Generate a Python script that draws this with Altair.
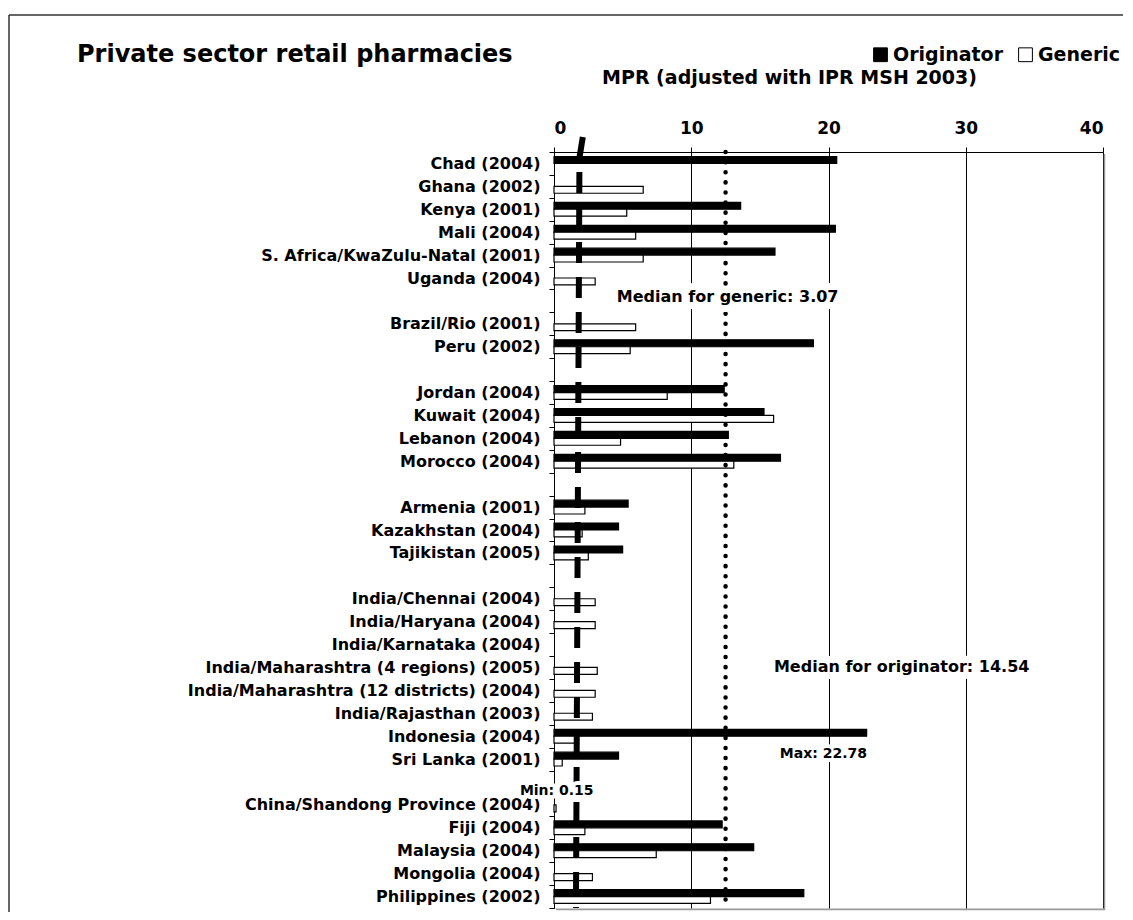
import altair as alt
import pandas as pd

# ---------------- data ----------------
rows = [
    "Chad (2004)", "Ghana (2002)", "Kenya (2001)", "Mali (2004)",
    "S. Africa/KwaZulu-Natal (2001)", "Uganda (2004)", "gap1",
    "Brazil/Rio (2001)", "Peru (2002)", "gap2",
    "Jordan (2004)", "Kuwait (2004)", "Lebanon (2004)", "Morocco (2004)", "gap3",
    "Armenia (2001)", "Kazakhstan (2004)", "Tajikistan (2005)", "gap4",
    "India/Chennai (2004)", "India/Haryana (2004)", "India/Karnataka (2004)",
    "India/Maharashtra (4 regions) (2005)", "India/Maharashtra (12 districts) (2004)",
    "India/Rajasthan (2003)", "Indonesia (2004)", "Sri Lanka (2001)", "gap5",
    "China/Shandong Province (2004)", "Fiji (2004)", "Malaysia (2004)",
    "Mongolia (2004)", "Philippines (2002)",
]
originator = [20.6, None, 13.6, 20.5, 16.1, None, None,
              None, 18.9, None,
              12.4, 15.3, 12.7, 16.5, None,
              5.4, 4.7, 5.0, None,
              None, None, None, None, None, None, 22.78, 4.7, None,
              None, 12.25, 14.55, None, 18.2]
generic = [None, 6.5, 5.3, 5.95, 6.5, 3.0, None,
           5.95, 5.55, None,
           8.25, 16.0, 4.85, 13.1, None,
           2.25, 2.05, 2.5, None,
           3.0, 3.0, None, 3.15, 3.0, 2.8, 1.65, 0.6, None,
           0.15, 2.25, 7.45, 2.8, 11.4]
series = ["Originator", "Generic"]

# median reference lines as drawn (x at top, x at bottom)
generic_median_line = [1.85, 1.6]
generic_median_top = [2.1, 1.85]
originator_median_line = [12.5]

ann_text = ["Median for generic: 3.07", "Median for originator: 14.54", "Max: 22.78", "Min: 0.15"]
ann_x = [12.65, 25.33, 19.63, 0.2]
ann_row = ["gap1", "India/Maharashtra (4 regions) (2005)", "Sri Lanka (2001)", "gap5"]
ann_dy = [-4, 0, -5, 9]
ann_size = [16, 16, 14, 14]
ann_halo = [14, 14, 8, 8]

title_text = "Private sector retail pharmacies"

recs = []
for r, o, g in zip(rows, originator, generic):
    if o is not None:
        recs.append({"row": r, "series": "Originator", "mpr": o})
    if g is not None:
        recs.append({"row": r, "series": "Generic", "mpr": g})
df = pd.DataFrame(recs)

FONT = "DejaVu Sans"
W, H = 549, 756

xscale = alt.Scale(domain=[0, 40], nice=False, zero=True)
yscale = alt.Scale(domain=rows, paddingInner=0, paddingOuter=0)

xaxis = alt.Axis(
    orient="top", values=[0, 10, 20, 30, 40], grid=True, gridColor="black", gridWidth=1,
    gridOpacity=1, tickSize=5, tickColor="black", domainColor="black",
    labelFont=FONT, labelFontWeight="bold", labelFontSize=17, labelColor="black",
    labelPadding=10, title="MPR (adjusted with IPR MSH 2003)", titleFont=FONT,
    titleFontSize=19, titleFontWeight="bold", titleColor="black",
    titleX=235, titleY=-75, titleAlign="center", titleBaseline="middle",
)
yaxis = alt.Axis(
    title=None, tickBand="extent", tickSize=5, tickColor="black", domainColor="black",
    labelFont=FONT, labelFontWeight="bold", labelFontSize=16, labelColor="black",
    labelPadding=9, labelLimit=0, grid=False,
    labelExpr="indexof(datum.label, 'gap') == 0 ? '' : datum.label",
)

X = lambda: alt.X("mpr:Q", scale=xscale, axis=xaxis)
Y = lambda: alt.Y("row:N", scale=yscale, axis=yaxis)

bars = alt.Chart(df).mark_bar(stroke="black", strokeWidth=1.2).encode(
    x=X(),
    y=Y(),
    yOffset=alt.YOffset("series:N", scale=alt.Scale(domain=series, paddingInner=0, paddingOuter=0.66)),
    fill=alt.Fill(
        "series:N",
        scale=alt.Scale(domain=series, range=["black", "white"]),
        legend=alt.Legend(
            title=None, orient="none", legendX=317, legendY=-107, direction="horizontal",
            symbolType="square", symbolSize=190, symbolStrokeColor="black",
            symbolStrokeWidth=1, labelFont=FONT, labelFontSize=19, labelFontWeight="bold",
            labelColor="black", columnPadding=12, labelOffset=3,
        ),
    ),
)

top_df = pd.DataFrame({"mpr": [generic_median_top[0]], "mpr2": [generic_median_top[1]]})
top_piece = alt.Chart(top_df).mark_rule(color="black", strokeWidth=6).encode(
    x=X(), x2="mpr2:Q", y=alt.value(-15), y2=alt.value(6)
)
dash_df = pd.DataFrame({"mpr": [generic_median_line[0]], "mpr2": [generic_median_line[1]]})
dashed = alt.Chart(dash_df).mark_rule(color="black", strokeWidth=6, strokeDash=[21, 14]).encode(
    x=X(), x2="mpr2:Q", y=alt.value(20), y2=alt.value({"expr": "height"})
)
dot_df = pd.DataFrame({"mpr": originator_median_line})
dotted = alt.Chart(dot_df).mark_rule(
    color="black", strokeWidth=4.5, strokeDash=[0.1, 10], strokeCap="round"
).encode(x=X(), y=alt.value(0), y2=alt.value({"expr": "height - 5"}))

ann_layers = []
for t, xv, rv, dy, fs, hw in zip(ann_text, ann_x, ann_row, ann_dy, ann_size, ann_halo):
    d = pd.DataFrame({"mpr": [xv], "row": [rv], "label": [t]})
    base = alt.Chart(d)
    halo = base.mark_text(
        font=FONT, fontWeight="bold", fontSize=fs, dy=dy, align="center", baseline="middle",
        color="white", stroke="white", strokeWidth=hw, strokeJoin="round",
    ).encode(x=X(), y=Y(), text="label:N")
    txt = base.mark_text(
        font=FONT, fontWeight="bold", fontSize=fs, dy=dy, align="center", baseline="middle",
        color="black",
    ).encode(x=X(), y=Y(), text="label:N")
    ann_layers += [halo, txt]

# decorations: chart title, outer frame, plot-frame shadow
title_df = pd.DataFrame({"label": [title_text]})
title = alt.Chart(title_df).mark_text(
    font=FONT, fontWeight="bold", fontSize=24, align="left", baseline="middle", color="black"
).encode(x=alt.value(-477), y=alt.value(-97), text="label:N")

frame_left = alt.Chart(dot_df).mark_rule(color="#333333", strokeWidth=1.5).encode(
    x=alt.value(-545), y=alt.value(-137), y2=alt.value({"expr": "height + 10"})
)
frame_top = alt.Chart(dot_df).mark_rule(color="#333333", strokeWidth=1.5).encode(
    x=alt.value(-545), x2=alt.value({"expr": "width + 30"}), y=alt.value(-137)
)
shadow_right = alt.Chart(dot_df).mark_rule(color="#999999", strokeWidth=1.5).encode(
    x=alt.value({"expr": "width + 1.5"}), y=alt.value(2), y2=alt.value({"expr": "height + 2"})
)
shadow_bottom = alt.Chart(dot_df).mark_rule(color="#999999", strokeWidth=1.5).encode(
    x=alt.value(2), x2=alt.value({"expr": "width + 2"}), y=alt.value({"expr": "height + 1.5"})
)

chart = alt.layer(
    bars, top_piece, dashed, dotted, *ann_layers, title,
    frame_left, frame_top, shadow_right, shadow_bottom
).properties(
    width=W, height=H,
    padding={"left": 546, "top": 144, "right": 20, "bottom": 4},
    autosize=alt.AutoSizeParams(type="none"),
).configure_view(stroke="black", strokeWidth=1).configure(background="white")

chart.save("out.html", embed_options={"renderer": "svg", "actions": False})
